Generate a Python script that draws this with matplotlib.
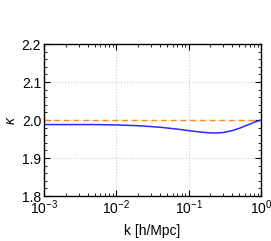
import numpy as np
import matplotlib
matplotlib.use("Agg")
import matplotlib.pyplot as plt
from matplotlib.ticker import LogLocator, MultipleLocator, NullFormatter

plt.rcParams['font.family'] = ['Liberation Sans', 'DejaVu Sans']
plt.rcParams['mathtext.fontset'] = 'custom'
plt.rcParams['mathtext.rm'] = 'Liberation Sans'
plt.rcParams['mathtext.it'] = 'Liberation Sans:italic'

# data
k_vals = [1e-3, 2e-3, 5e-3, 1e-2, 2e-2, 4e-2, 7e-2, 0.1, 0.15, 0.2, 0.25, 0.3, 0.4, 0.5, 0.6, 0.7, 0.8, 0.9, 1.0]
kappa_vals = [1.988, 1.988, 1.988, 1.987, 1.985, 1.981, 1.976, 1.972, 1.968, 1.966, 1.966, 1.967, 1.972, 1.978, 1.984, 1.989, 1.994, 1.997, 2.000]
ref_k = [1e-3, 1.0]
ref_kappa = [2.0, 2.0]

fig = plt.figure(figsize=(2.71, 2.41), dpi=100)
ax = fig.add_axes([44/271, 1 - 196/241, (261-44)/271, (196-44)/241])

ax.plot(ref_k, ref_kappa, color='#ff8c1a', lw=1.0, ls=(0, (4, 3)))
ax.plot(k_vals, kappa_vals, color='#2a2aff', lw=1.1)

ax.set_xscale('log')
ax.set_xlim(1e-3, 1.0)
ax.set_ylim(1.8, 2.2)
ax.yaxis.set_major_locator(MultipleLocator(0.1))
ax.yaxis.set_minor_locator(MultipleLocator(0.02))
ax.xaxis.set_minor_locator(LogLocator(base=10, subs=np.arange(2, 10)))
ax.xaxis.set_minor_formatter(NullFormatter())
ax.grid(True, which='major', color='#cccccc', ls=':', lw=0.8)
ax.tick_params(which='both', direction='in', top=True, right=True, labelsize=10, pad=2)
ax.tick_params(which='major', length=4, width=0.8)
ax.tick_params(which='minor', length=2, width=0.6)
for s in ax.spines.values():
    s.set_linewidth(1.0)
ax.set_xlabel('k [h/Mpc]', fontsize=10, labelpad=5)
ax.set_ylabel(r'$\kappa$', fontsize=10, labelpad=3)

fig.savefig('out.png', dpi=100)
